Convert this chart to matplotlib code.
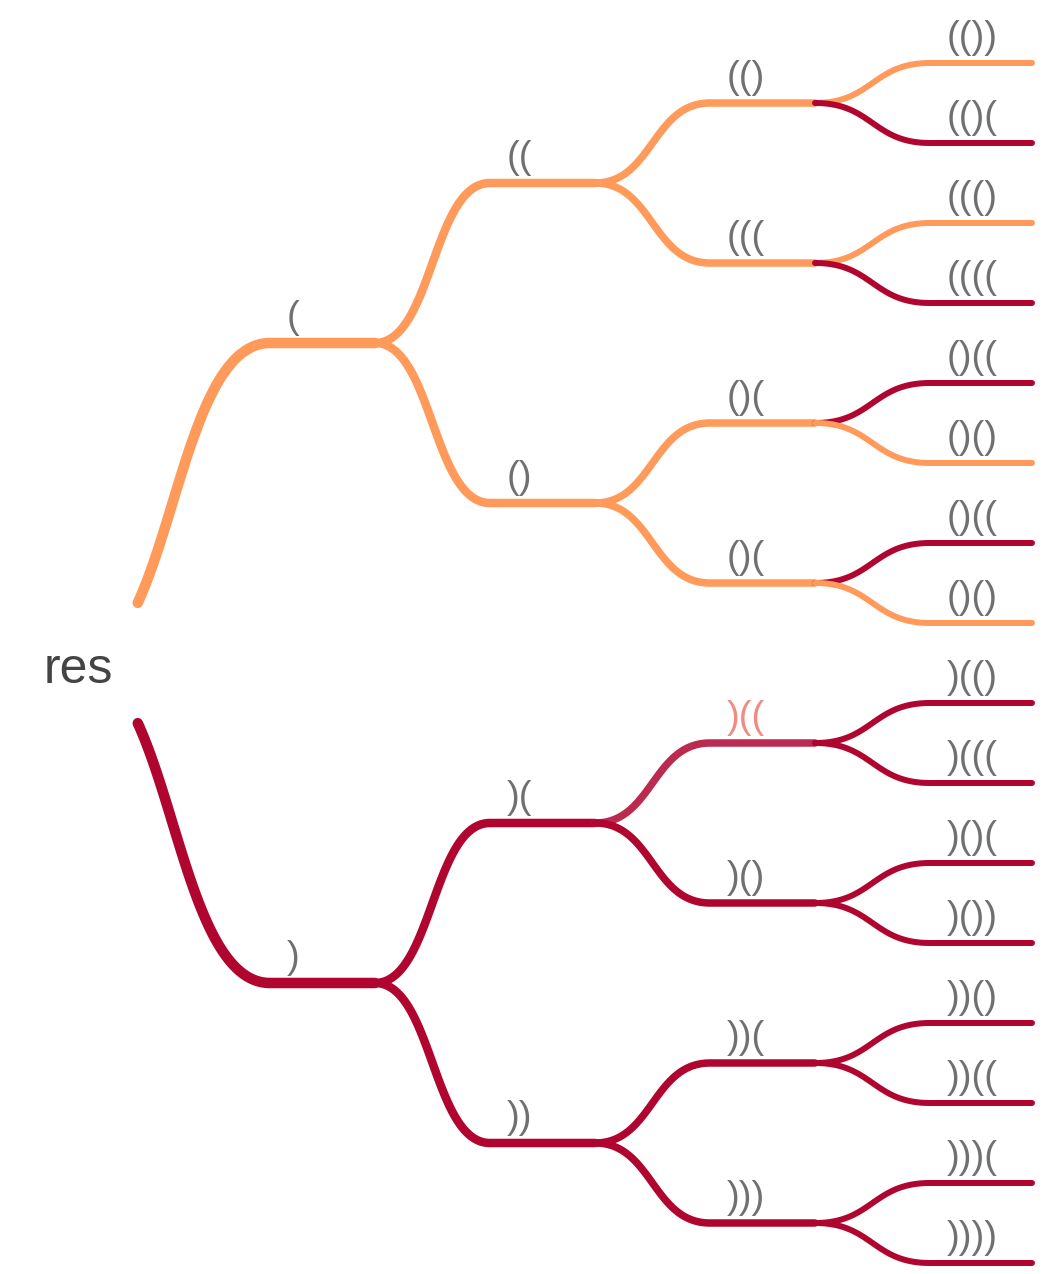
import numpy as np
import matplotlib
matplotlib.use('Agg')
import matplotlib.pyplot as plt

# tree data: labels per level (top to bottom) and branch colour group
root_label = 'res'
level1_labels = ['(', ')']
level2_labels = ['((', '()', ')(', '))']
level3_labels = ['(()', '(((', '()(', '()(', ')((', ')()', '))(', ')))']
level4_labels = ['(())', '(()(', '((()', '((((', '()((', '()()', '()((', '()()',
                 ')(()', ')(((', ')()(', ')())', '))()', '))((', ')))(', '))))']
level1_groups = ['o', 'r']
level2_groups = ['o', 'o', 'r', 'r']
level3_groups = ['o', 'o', 'o', 'o', 'h', 'r', 'r', 'r']
level4_groups = ['o', 'r', 'o', 'r', 'r', 'o', 'r', 'o',
                 'r', 'r', 'r', 'r', 'r', 'r', 'r', 'r']

levels = [level1_labels, level2_labels, level3_labels, level4_labels]
groups = [level1_groups, level2_groups, level3_groups, level4_groups]

line_colors = {'o': '#ff9a5a', 'r': '#b0052f', 'h': '#bb2a4f'}
label_colors = {'o': '#707070', 'r': '#707070', 'h': '#f28a84'}

W, H = 1042, 1274
fig = plt.figure(figsize=(W / 100, H / 100), dpi=100)
ax = fig.add_axes([0, 0, 1, 1])
ax.set_xlim(0, W)
ax.set_ylim(H, 0)
ax.axis('off')

# layout in pixels
root_x = 75
seg_start = [270, 490, 710, 930]
seg_end = [375, 595, 815, 1032]
widths_px = [10.5, 8.5, 7.5, 6.0]
leaf_top, leaf_step = 63, 80

# y positions: leaves evenly spaced, parents centred on children
ys = [None] * 4
ys[3] = [leaf_top + leaf_step * i for i in range(len(level4_labels))]
for L in (2, 1, 0):
    ys[L] = [(ys[L + 1][2 * i] + ys[L + 1][2 * i + 1]) / 2 for i in range(len(levels[L]))]
root_y = (ys[0][0] + ys[0][1]) / 2


def link(x0, y0, x1, y1, n=120):
    t = np.linspace(0, 1, n)
    xm = (x0 + x1) / 2
    bx = (1 - t) ** 3 * x0 + 3 * t * (1 - t) ** 2 * xm + 3 * t ** 2 * (1 - t) * xm + t ** 3 * x1
    by = (1 - t) ** 3 * y0 + 3 * t * (1 - t) ** 2 * y0 + 3 * t ** 2 * (1 - t) * y1 + t ** 3 * y1
    return bx, by


font = 'Liberation Sans'
for L in range(4):
    lw = widths_px[L] * 0.72
    for i, lab in enumerate(levels[L]):
        y = ys[L][i]
        if L == 0:
            px, py = root_x, root_y
        else:
            px, py = seg_end[L - 1], ys[L - 1][i // 2]
        bx, by = link(px, py, seg_start[L], y)
        if L == 0:
            keep = np.abs(by - root_y) >= 57
            bx, by = bx[keep], by[keep]
        xs = np.concatenate([bx, [seg_end[L]]])
        yv = np.concatenate([by, [y]])
        g = groups[L][i]
        ax.plot(xs, yv, color=line_colors[g], lw=lw, solid_capstyle='round',
                solid_joinstyle='round', zorder=2 + L)
        ax.text(seg_start[L] + 17, y - 15, lab, fontsize=27.5, family=font,
                color=label_colors[g], ha='left', va='baseline', zorder=1)

ax.text(113, root_y + 20, root_label, fontsize=36, family=font, color='#444444',
        ha='right', va='baseline')

fig.savefig('out.png', dpi=100)
